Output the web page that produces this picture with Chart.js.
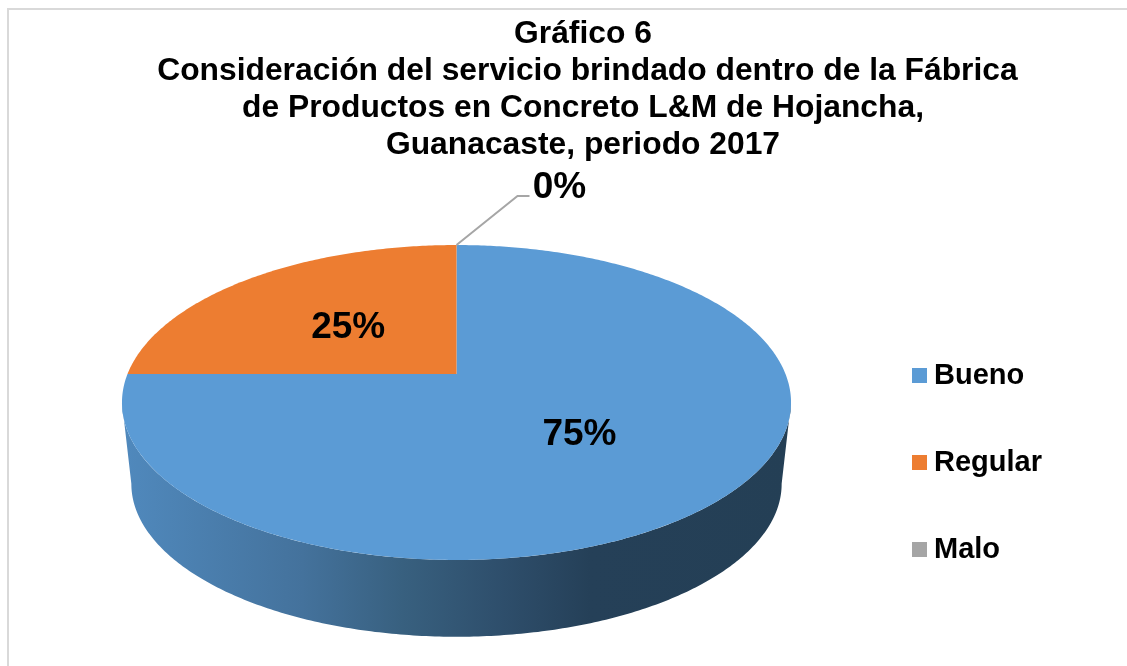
<!DOCTYPE html>
<html lang="es">
<head>
<meta charset="utf-8">
<title>Gráfico 6</title>
<script src="https://cdn.jsdelivr.net/npm/chart.js@4"></script>
<style>
  html, body { margin: 0; padding: 0; background: #fff; }
  #wrap { position: relative; width: 1127px; height: 666px; overflow: hidden; }
  #frame { position: absolute; left: 7px; top: 8px; width: 1200px; height: 800px; border: 2px solid #d9d9d9; }
  canvas { position: relative; display: block; }
</style>
</head>
<body>
<div id="wrap">
  <div id="frame"></div>
  <canvas id="pieChart" width="1127" height="666"></canvas>
</div>
<script>
const categories = ['Bueno', 'Regular', 'Malo'];
const percentValues = [75, 25, 0];
const sliceColors = ['#5b9bd5', '#ed7d31', '#a5a5a5'];
const titleLines = [
  'Gráfico 6',
  ' Consideración del servicio brindado dentro de la Fábrica',
  'de Productos en Concreto L&M de Hojancha,',
  'Guanacaste, periodo 2017'
];

const FONT = '"Liberation Sans", Arial, sans-serif';

// tilted pie: perspective projection of the unit circle
const tilt = { cx: 456.5, cy: 374, a: 329, b: 152.3, k: 0.181 };
const rimDepth = 82, rimScale = 0.972;

function project(u, v, scale, dy) {
  const s = (scale || 1) / (1 - tilt.k * v);
  return [tilt.cx + tilt.a * u * s, tilt.cy + (dy || 0) + tilt.b * v * s];
}

function rimPoint(angle, scale, dy) {
  return project(Math.cos(angle), Math.sin(angle), scale, dy);
}

function traceArc(ctx, from, to, scale, dy) {
  const steps = Math.max(2, Math.ceil(Math.abs(to - from) * 90));
  for (let i = 0; i <= steps; i++) {
    const p = rimPoint(from + (to - from) * i / steps, scale, dy);
    ctx.lineTo(p[0], p[1]);
  }
}

function drawSide(ctx) {
  const right = Math.asin(tilt.k), left = Math.PI - right;
  const grad = ctx.createLinearGradient(122, 0, 791, 0);
  grad.addColorStop(0, '#5089bd');
  grad.addColorStop(0.27, '#44729c');
  grad.addColorStop(0.42, '#38607f');
  grad.addColorStop(0.57, '#2e4e6b');
  grad.addColorStop(0.7, '#254058');
  grad.addColorStop(1, '#243f55');
  ctx.fillStyle = grad;
  ctx.beginPath();
  traceArc(ctx, right, left, 1, 0);
  traceArc(ctx, left, right, rimScale, rimDepth);
  ctx.closePath();
  ctx.fill();
}

const pie3d = {
  id: 'pie3d',
  beforeDatasetsDraw(chart) {
    const ctx = chart.ctx;
    const arcs = chart.getDatasetMeta(0).data;
    ctx.save();
    drawSide(ctx);
    arcs.forEach((arc, i) => {
      if (arc.endAngle - arc.startAngle <= 0) return;
      const c = project(0, 0);
      ctx.fillStyle = sliceColors[i];
      ctx.beginPath();
      ctx.moveTo(c[0], c[1]);
      traceArc(ctx, arc.startAngle, arc.endAngle);
      ctx.closePath();
      ctx.fill();
    });

    // labels sit at half radius of each slice, the empty slice gets a leader line
    ctx.font = 'bold 37px ' + FONT;
    ctx.textAlign = 'center';
    ctx.textBaseline = 'middle';
    arcs.forEach((arc, i) => {
      const mid = (arc.startAngle + arc.endAngle) / 2;
      const text = percentValues[i] + '%';
      if (percentValues[i] === 0) {
        const p = rimPoint(mid);
        ctx.strokeStyle = '#a6a6a6';
        ctx.lineWidth = 2;
        ctx.beginPath();
        ctx.moveTo(p[0], p[1]);
        ctx.lineTo(p[0] + 61, p[1] - 49);
        ctx.lineTo(p[0] + 73, p[1] - 49);
        ctx.stroke();
        ctx.fillStyle = '#000';
        ctx.fillText(text, p[0] + 103, p[1] - 57);
      } else {
        const p = project(Math.cos(mid) * 0.495, Math.sin(mid) * 0.495);
        ctx.fillStyle = '#000';
        ctx.fillText(text, p[0], p[1] + 3.5);
      }
    });
    ctx.restore();
    return false;
  }
};

function legendSwatch(color) {
  const c = document.createElement('canvas');
  c.width = 15;
  c.height = 15;
  const g = c.getContext('2d');
  g.fillStyle = color;
  g.fillRect(0, 0, 15, 15);
  return c;
}

new Chart(document.getElementById('pieChart'), {
  type: 'pie',
  data: {
    labels: categories,
    datasets: [{ data: percentValues, backgroundColor: sliceColors, borderWidth: 0 }]
  },
  plugins: [pie3d],
  options: {
    responsive: false,
    animation: false,
    rotation: 0,
    layout: { padding: { left: 114, right: 75, top: 16, bottom: 44 } },
    plugins: {
      tooltip: { enabled: false },
      title: {
        display: true,
        text: titleLines,
        color: '#000',
        font: { family: FONT, size: 31.8, weight: 'bold', lineHeight: 1.163 },
        padding: { top: 0, bottom: 10 }
      },
      legend: {
        position: 'right',
        align: 'end',
        labels: {
          color: '#000',
          font: { family: FONT, size: 29, weight: 'bold' },
          usePointStyle: true,
          boxWidth: 1,
          padding: 58,
          generateLabels: chart => categories.map((name, i) => ({
            text: name,
            fontColor: '#000',
            fillStyle: sliceColors[i],
            pointStyle: legendSwatch(sliceColors[i]),
            lineWidth: 0,
            hidden: false,
            index: i
          }))
        }
      }
    }
  }
});
</script>
</body>
</html>
